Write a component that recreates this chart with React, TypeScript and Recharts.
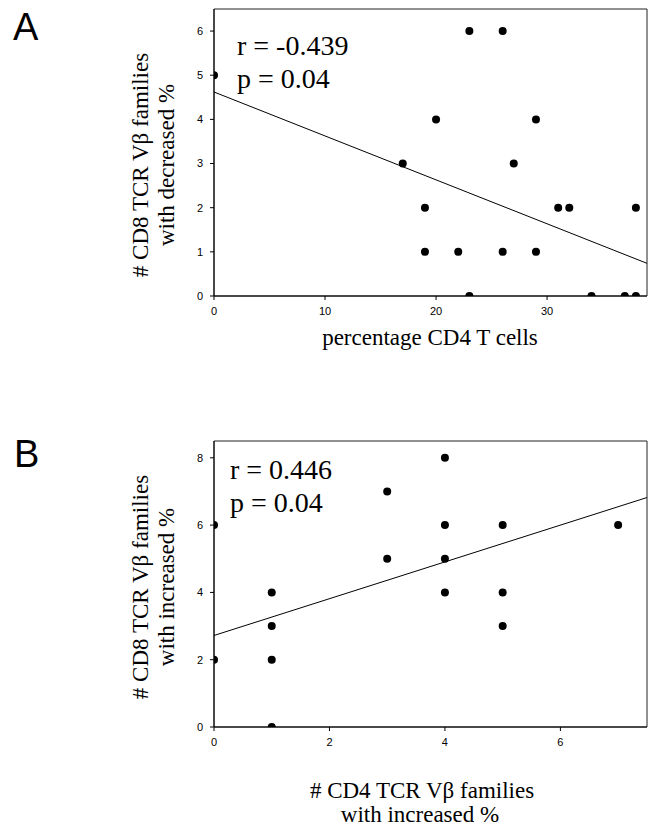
import React from 'react';
import { ScatterChart, Scatter, XAxis, YAxis, ReferenceLine, ReferenceArea } from 'recharts';

// Panel A: percentage CD4 T cells vs # CD8 TCR Vβ families with decreased %
const aX = [0, 23, 26, 20, 29, 17, 27, 19, 31, 32, 38, 19, 22, 26, 29, 23, 34, 37, 38];
const aY = [5, 6, 6, 4, 4, 3, 3, 2, 2, 2, 2, 1, 1, 1, 1, 0, 0, 0, 0];
const aXTicks = [0, 10, 20, 30];
const aYTicks = [0, 1, 2, 3, 4, 5, 6];
const aFitX = [0, 39];
const aFitY = [4.62, 0.74];
const aStats = ['r = -0.439', 'p = 0.04'];

// Panel B: # CD4 vs # CD8 TCR Vβ families with increased %
const bX = [0, 0, 1, 1, 1, 1, 3, 3, 4, 4, 4, 4, 5, 5, 5, 7];
const bY = [6, 2, 4, 3, 2, 0, 7, 5, 8, 6, 5, 4, 6, 4, 3, 6];
const bXTicks = [0, 2, 4, 6];
const bYTicks = [0, 2, 4, 6, 8];
const bFitX = [0, 7.5];
const bFitY = [2.72, 6.82];
const bStats = ['r = 0.446', 'p = 0.04'];

const aData = aX.map((x, i) => ({ x, y: aY[i] }));
const bData = bX.map((x, i) => ({ x, y: bY[i] }));
const aSeg = aFitX.map((x, i) => ({ x, y: aFitY[i] }));
const bSeg = bFitX.map((x, i) => ({ x, y: bFitY[i] }));

const tickStyle = { fontSize: 11, fill: '#000', fontFamily: 'Liberation Sans, Arial, sans-serif' };
const serif = 'Liberation Serif, Times New Roman, serif';
const sans = 'Liberation Sans, Arial, sans-serif';

const Dot = (props: any) => <circle cx={props.cx} cy={props.cy} r={4} fill="#000" />;

function Panel(props: {
  data: { x: number; y: number }[];
  seg: { x: number; y: number }[];
  xDomain: [number, number];
  yDomain: [number, number];
  xTicks: number[];
  yTicks: number[];
  top: number;
  marginTop: number;
  marginBottom: number;
}) {
  const { data, seg, xDomain, yDomain, xTicks, yTicks, top, marginTop, marginBottom } = props;
  return (
    <div style={{ position: 'absolute', left: 0, top, width: 655, height: 330 }}>
      <ScatterChart
        width={655}
        height={330}
        margin={{ top: marginTop, right: 8, bottom: marginBottom, left: 199 }}
      >
        <XAxis
          type="number"
          dataKey="x"
          domain={xDomain}
          ticks={xTicks}
          allowDataOverflow
          height={30}
          tickSize={4}
          tickMargin={7}
          tick={tickStyle}
          stroke="#000"
          tickLine={{ stroke: '#000' }}
        />
        <YAxis
          type="number"
          dataKey="y"
          domain={yDomain}
          ticks={yTicks}
          allowDataOverflow
          width={15}
          tickSize={4}
          tickMargin={7}
          tick={tickStyle}
          stroke="#000"
          tickLine={{ stroke: '#000' }}
        />
        <ReferenceArea
          x1={xDomain[0]}
          x2={xDomain[1]}
          y1={yDomain[0]}
          y2={yDomain[1]}
          fill="none"
          stroke="#222"
          strokeWidth={1}
          fillOpacity={0}
        />
        <ReferenceLine segment={seg} stroke="#000" strokeWidth={1} />
        <Scatter data={data} shape={Dot} isAnimationActive={false} />
      </ScatterChart>
    </div>
  );
}

export default function App() {
  return (
    <div style={{ position: 'absolute', left: 0, top: 0, width: 655, height: 827, background: '#fff' }}>
      <Panel
        data={aData}
        seg={aSeg}
        xDomain={[0, 39]}
        yDomain={[0, 6.5]}
        xTicks={aXTicks}
        yTicks={aYTicks}
        top={0}
        marginTop={9}
        marginBottom={4}
      />
      <Panel
        data={bData}
        seg={bSeg}
        xDomain={[0, 7.5]}
        yDomain={[0, 8.5]}
        xTicks={bXTicks}
        yTicks={bYTicks}
        top={430}
        marginTop={11}
        marginBottom={3}
      />
      <svg
        width={655}
        height={827}
        style={{ position: 'absolute', left: 0, top: 0, pointerEvents: 'none' }}
      >
        <text x={13} y={40} fontFamily={sans} fontSize={38} fill="#000">A</text>
        <text x={14} y={467} fontFamily={sans} fontSize={38} fill="#000">B</text>

        <text x={237} y={55} fontFamily={serif} fontSize={28} fill="#000">{aStats[0]}</text>
        <text x={237} y={88} fontFamily={serif} fontSize={28} fill="#000">{aStats[1]}</text>
        <text x={230} y={479} fontFamily={serif} fontSize={28} fill="#000">{bStats[0]}</text>
        <text x={230} y={512} fontFamily={serif} fontSize={28} fill="#000">{bStats[1]}</text>

        <text x={430} y={345} textAnchor="middle" fontFamily={serif} fontSize={23} fill="#000">
          percentage CD4 T cells
        </text>
        <text x={422} y={798} textAnchor="middle" fontFamily={serif} fontSize={23} fill="#000">
          # CD4 TCR Vβ families
        </text>
        <text x={420} y={822} textAnchor="middle" fontFamily={serif} fontSize={23} fill="#000">
          with increased %
        </text>

        <g transform="translate(148,165) rotate(-90)">
          <text x={0} y={0} textAnchor="middle" fontFamily={serif} fontSize={23} fill="#000">
            # CD8 TCR Vβ families
          </text>
          <text x={0} y={26} textAnchor="middle" fontFamily={serif} fontSize={23} fill="#000">
            with decreased %
          </text>
        </g>
        <g transform="translate(148,587) rotate(-90)">
          <text x={0} y={0} textAnchor="middle" fontFamily={serif} fontSize={23} fill="#000">
            # CD8 TCR Vβ families
          </text>
          <text x={0} y={26} textAnchor="middle" fontFamily={serif} fontSize={23} fill="#000">
            with increased %
          </text>
        </g>
      </svg>
    </div>
  );
}
